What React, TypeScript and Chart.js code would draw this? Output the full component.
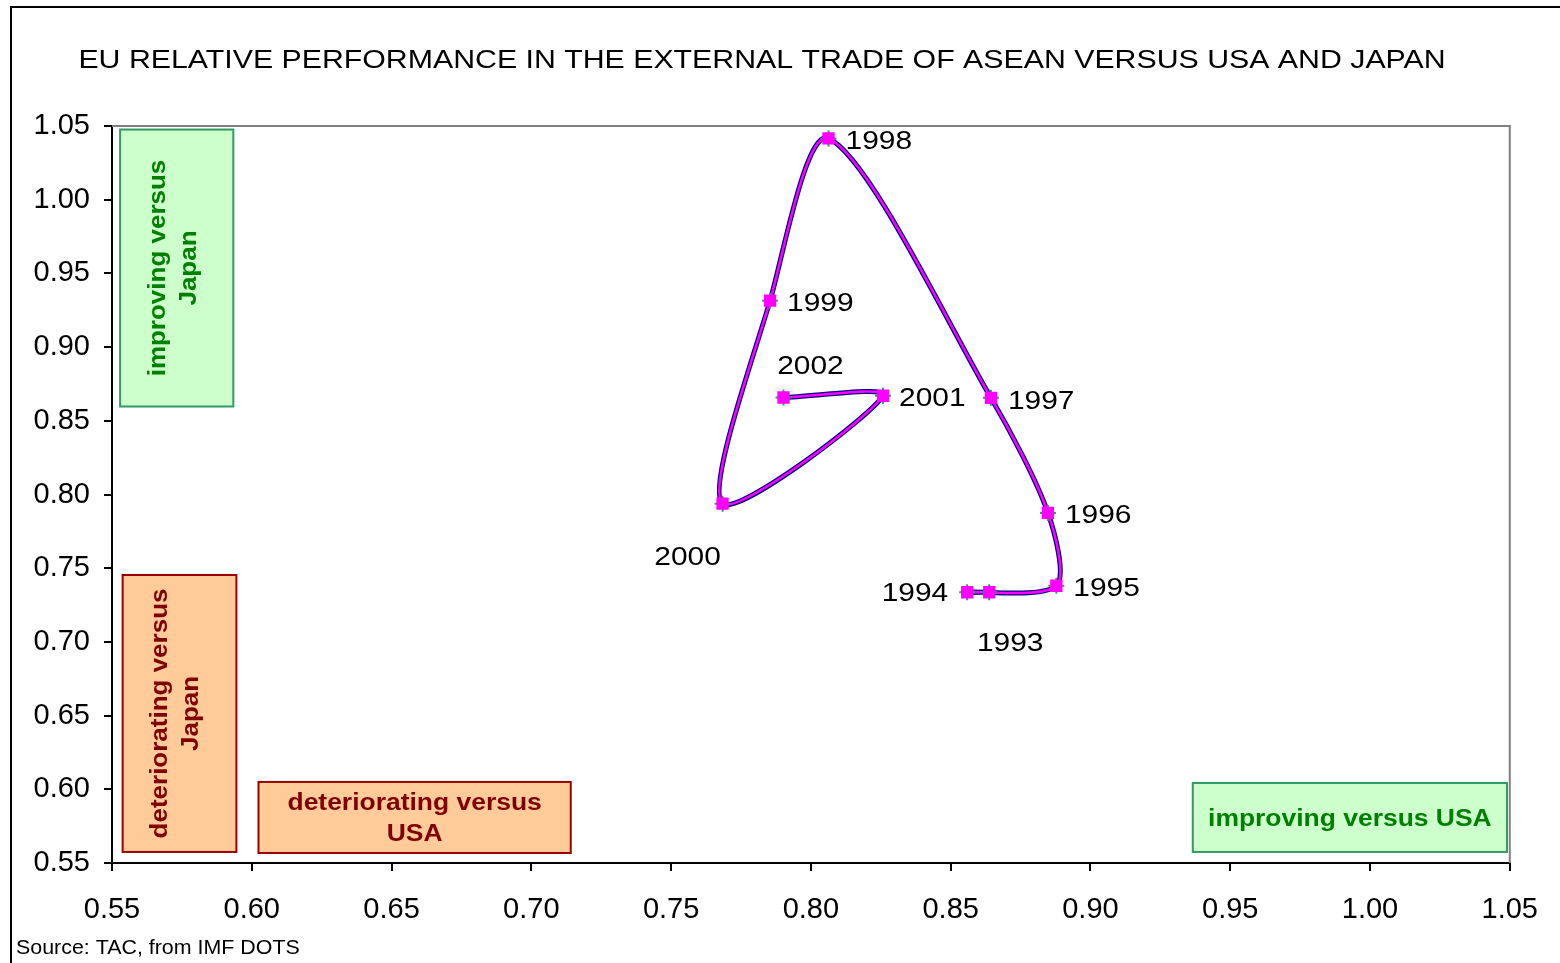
import React, { useEffect, useRef } from 'react';
import { Chart, registerables } from 'chart.js';

Chart.register(...registerables);

// ---- data ----
const years = ['1993', '1994', '1995', '1996', '1997', '1998', '1999', '2000', '2001', '2002'];
const vsUsa = [0.8638, 0.8559, 0.8878, 0.8848, 0.8644, 0.8063, 0.7854, 0.7684, 0.8258, 0.7902];
const vsJapan = [0.7337, 0.7337, 0.7381, 0.7875, 0.8656, 1.0416, 0.9315, 0.7938, 0.8670, 0.8658];
const xTicks = [0.55, 0.6, 0.65, 0.7, 0.75, 0.8, 0.85, 0.9, 0.95, 1.0, 1.05];
const yTicks = [0.55, 0.6, 0.65, 0.7, 0.75, 0.8, 0.85, 0.9, 0.95, 1.0, 1.05];

const TITLE = 'EU RELATIVE PERFORMANCE IN THE EXTERNAL TRADE OF ASEAN VERSUS USA AND JAPAN';
const SOURCE = 'Source: TAC, from IMF DOTS';

// ---- label placement (style) ----
const labelPlacement: { dx: number; dy: number; align: CanvasTextAlign }[] = [
  { dx: 21, dy: 52, align: 'center' }, // 1993
  { dx: -19, dy: 2, align: 'right' }, // 1994
  { dx: 17, dy: 3, align: 'left' }, // 1995
  { dx: 17, dy: 3, align: 'left' }, // 1996
  { dx: 17, dy: 4, align: 'left' }, // 1997
  { dx: 17, dy: 3, align: 'left' }, // 1998
  { dx: 17, dy: 3, align: 'left' }, // 1999
  { dx: -35, dy: 54, align: 'center' }, // 2000
  { dx: 16, dy: 3, align: 'left' }, // 2001
  { dx: 27, dy: -31, align: 'center' }, // 2002
];

// ---- annotation boxes (in axis units) ----
const annotationBoxes = [
  { x0: 0.5529, x1: 0.5934, y0: 1.0476, y1: 0.8597, lines: ['improving versus', 'Japan'], fill: '#CCFFCC', stroke: '#339966', color: '#008000', vertical: true },
  { x0: 0.5538, x1: 0.5945, y0: 0.7454, y1: 0.5575, lines: ['deteriorating versus', 'Japan'], fill: '#FFCC99', stroke: '#990000', color: '#800000', vertical: true },
  { x0: 0.6024, x1: 0.7141, y0: 0.6050, y1: 0.5568, lines: ['deteriorating versus', 'USA'], fill: '#FFCC99', stroke: '#990000', color: '#800000', vertical: false },
  { x0: 0.9366, x1: 1.0490, y0: 0.6043, y1: 0.5575, lines: ['improving versus USA'], fill: '#CCFFCC', stroke: '#339966', color: '#008000', vertical: false },
];

const FONT = '"Liberation Sans", Arial, sans-serif';

function drawText(
  ctx: CanvasRenderingContext2D,
  text: string,
  x: number,
  y: number,
  font: string,
  color: string,
  align: CanvasTextAlign,
  sx: number,
  rotate = 0
) {
  ctx.save();
  ctx.translate(x, y);
  if (rotate) ctx.rotate(rotate);
  ctx.scale(sx, 1);
  ctx.font = font;
  ctx.fillStyle = color;
  ctx.textAlign = align;
  ctx.textBaseline = 'middle';
  ctx.fillText(text, 0, 0);
  ctx.restore();
}

const decorPlugin = {
  id: 'decor',
  beforeDraw(chart: any) {
    const ctx: CanvasRenderingContext2D = chart.ctx;
    ctx.save();
    ctx.fillStyle = '#ffffff';
    ctx.fillRect(0, 0, chart.width, chart.height);
    ctx.strokeStyle = '#000000';
    ctx.lineWidth = 2;
    ctx.strokeRect(11, 7, chart.width + 40, chart.height + 40);
    ctx.restore();
    drawText(ctx, TITLE, 762, 61, `26px ${FONT}`, '#000', 'center', 1.165);
    drawText(ctx, SOURCE, 16, 948, `20px ${FONT}`, '#000', 'left', 1.07);
  },
  beforeDatasetsDraw(chart: any) {
    const ctx: CanvasRenderingContext2D = chart.ctx;
    const { left, right, top, bottom } = chart.chartArea;
    const xs = chart.scales.x;
    const ys = chart.scales.y;
    // top & right plot border
    ctx.save();
    ctx.strokeStyle = '#808080';
    ctx.lineWidth = 2;
    ctx.beginPath();
    ctx.moveTo(left, top);
    ctx.lineTo(right, top);
    ctx.lineTo(right, bottom);
    ctx.stroke();
    ctx.restore();

    annotationBoxes.forEach((b) => {
      const px0 = xs.getPixelForValue(b.x0);
      const px1 = xs.getPixelForValue(b.x1);
      const py0 = ys.getPixelForValue(b.y0);
      const py1 = ys.getPixelForValue(b.y1);
      ctx.save();
      ctx.fillStyle = b.fill;
      ctx.strokeStyle = b.stroke;
      ctx.lineWidth = 2;
      ctx.fillRect(px0, py0, px1 - px0, py1 - py0);
      ctx.strokeRect(px0, py0, px1 - px0, py1 - py0);
      ctx.restore();
      const cx = (px0 + px1) / 2;
      const cy = (py0 + py1) / 2;
      const gap = 31;
      const n = b.lines.length;
      b.lines.forEach((line, i) => {
        const off = (i - (n - 1) / 2) * gap;
        if (b.vertical) {
          drawText(ctx, line, cx - 3 + off, cy, `bold 23px ${FONT}`, b.color, 'center', 1.13, -Math.PI / 2);
        } else {
          drawText(ctx, line, cx, cy + 2 + off, `bold 23px ${FONT}`, b.color, 'center', 1.15);
        }
      });
    });
  },
  afterDatasetsDraw(chart: any) {
    const ctx: CanvasRenderingContext2D = chart.ctx;
    const meta = chart.getDatasetMeta(3);
    meta.data.forEach((pt: any, i: number) => {
      const p = labelPlacement[i];
      drawText(ctx, years[i], pt.x + p.dx, pt.y + p.dy, `26px ${FONT}`, '#000', p.align, 1.15);
    });
  },
};

export default function App() {
  const canvasRef = useRef<HTMLCanvasElement | null>(null);

  useEffect(() => {
    document.body.style.margin = '0';
    const canvas = canvasRef.current;
    if (!canvas) return;
    const points = years.map((_, i) => ({ x: vsUsa[i], y: vsJapan[i] }));
    const tickFont = { family: FONT, size: 29 };
    const TENSION = 0.28;

    const chart = new Chart(canvas, {
      type: 'scatter',
      data: {
        datasets: [
          {
            label: 'outline',
            data: points,
            showLine: true,
            borderColor: '#000080',
            borderWidth: 5,
            pointRadius: 0,
            tension: TENSION,
            order: 3,
          } as any,
          {
            label: 'line',
            data: points,
            showLine: true,
            borderColor: '#FF00FF',
            borderWidth: 2.5,
            pointRadius: 0,
            tension: TENSION,
            order: 2,
          } as any,
          {
            label: 'cross',
            data: points,
            showLine: false,
            pointStyle: 'cross',
            pointRadius: 8,
            borderColor: '#339966',
            borderWidth: 2,
            backgroundColor: '#339966',
            order: 1,
          } as any,
          {
            label: 'EU',
            data: points,
            showLine: false,
            pointStyle: 'rect',
            pointRadius: 8.7,
            borderColor: '#FF00FF',
            backgroundColor: '#FF00FF',
            borderWidth: 0,
            order: 0,
          } as any,
        ],
      },
      options: {
        responsive: false,
        animation: false,
        events: [],
        layout: { padding: { top: 126, left: 0, right: 49, bottom: 0 } },
        plugins: {
          legend: { display: false },
          tooltip: { enabled: false },
          title: { display: false },
        },
        scales: {
          x: {
            type: 'linear',
            min: 0.55,
            max: 1.05,
            afterBuildTicks: (s: any) => {
              s.ticks = xTicks.map((v) => ({ value: v }));
            },
            afterFit: (s: any) => {
              s.height = 100;
            },
            ticks: {
              autoSkip: false,
              maxRotation: 0,
              color: '#000',
              font: tickFont,
              padding: 22,
              callback: (v: any) => Number(v).toFixed(2),
            },
            grid: { drawOnChartArea: false, drawTicks: true, tickLength: 8, color: '#000', lineWidth: 2 },
            border: { display: true, color: '#000', width: 2 },
          },
          y: {
            type: 'linear',
            min: 0.55,
            max: 1.05,
            afterBuildTicks: (s: any) => {
              s.ticks = yTicks.map((v) => ({ value: v }));
            },
            afterFit: (s: any) => {
              s.width = 112;
            },
            ticks: {
              autoSkip: false,
              color: '#000',
              font: tickFont,
              padding: 14,
              callback: (v: any) => Number(v).toFixed(2),
            },
            grid: { drawOnChartArea: false, drawTicks: true, tickLength: 8, color: '#000', lineWidth: 2 },
            border: { display: true, color: '#000', width: 2 },
          },
        },
      } as any,
      plugins: [decorPlugin],
    });
    return () => chart.destroy();
  }, []);

  return (
    <div style={{ width: 1560, height: 963 }}>
      <canvas ref={canvasRef} width={1560} height={963} style={{ display: 'block' }} />
    </div>
  );
}
